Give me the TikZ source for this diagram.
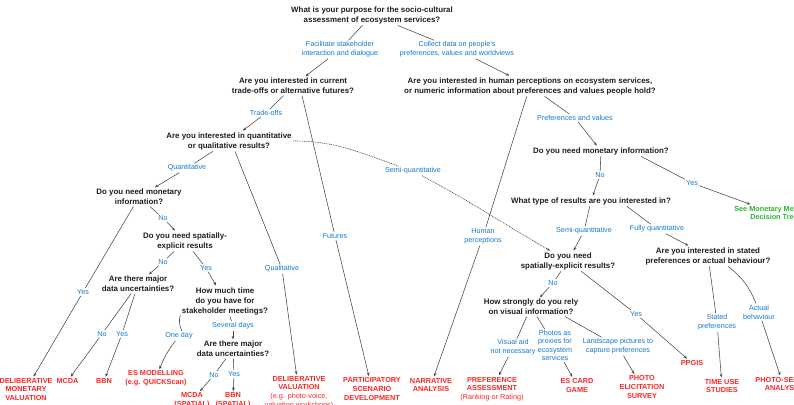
\documentclass[tikz,border=0pt]{standalone}
\usepackage{fontspec}
\setmainfont{Liberation Sans}
\usetikzlibrary{arrows.meta}
\definecolor{qtext}{RGB}{30,30,30}
\definecolor{lblue}{RGB}{20,120,200}
\definecolor{ored}{RGB}{250,40,40}
\definecolor{ogreen}{RGB}{40,180,50}
\definecolor{eline}{RGB}{70,70,70}
\tikzset{
 qn/.style={font=\fontsize{7.9}{10}\selectfont\bfseries, text=qtext, align=center, inner sep=1.5pt},
 lb/.style={font=\fontsize{7.2}{9}\selectfont, text=lblue, align=center, inner sep=1.2pt},
 ou/.style={font=\fontsize{7.3}{8.6}\selectfont\bfseries, text=ored, align=center, inner sep=1.5pt},
 ln/.style={draw=eline, line width=0.55pt},
 ar/.style={ln, -{Stealth[length=3.6pt,width=2.8pt]}},
 dl/.style={draw=eline, line width=0.6pt, dash pattern=on 1pt off 0.8pt}
}
\begin{document}
\begin{tikzpicture}[x=1pt,y=-1pt]
\useasboundingbox (0,0) rectangle (794,404);
\node[qn] (q1) at (372,15) {What is your purpose for the socio-cultural\\assessment of ecosystem services?};
\node[lb] (lfac) at (340,49.5) {Facilitate stakeholder\\interaction and dialogue};
\node[lb] (lcol) at (457,49.5) {Collect data on people's\\preferences, values and worldviews};
\node[qn] (q2) at (293,86) {Are you interested in current\\trade-offs or alternative futures?};
\node[qn] (q3) at (530,86) {Are you interested in human perceptions on ecosystem services,\\or numeric information about preferences and values people hold?};
\node[lb] (ltrade) at (266,113) {Trade-offs};
\node[qn] (q4) at (229,141) {Are you interested in quantitative\\or qualitative results?};
\node[lb] (lfut) at (335,236) {Futures};
\node[ou] (opsd) at (372,389) {PARTICIPATORY\\SCENARIO\\DEVELOPMENT};
\node[lb] (lquant) at (187,168) {Quantitative};
\node[qn] (qm1) at (139,197) {Do you need monetary\\information?};
\node[lb] (lqual) at (282,269) {Qualitative};
\node[ou] (odv) at (299,392.5) {DELIBERATIVE\\VALUATION\\{\mdseries(e.g. photo-voice,}\\{\mdseries valuation workshops)}};
\node[lb] (lsemi) at (413,171) {Semi-quantitative};
\node[lb] (lpref) at (575,118) {Preferences and values};
\node[qn] (qm2) at (601,151) {Do you need monetary information?};
\node[lb] (lhum) at (483,236.5) {Human\\perceptions};
\node[ou] (ona) at (431,385) {NARRATIVE\\ANALYSIS};
\node[lb] (lyesm) at (692,183) {Yes};
\node[ou, text=ogreen] (osee) at (774,213) {See Monetary Methods\\Decision Tree};
\node[lb] (lnom) at (600,175) {No};
\node[qn] (qtype) at (591,201) {What type of results are you interested in?};
\node[lb] (lsemib) at (584,231) {Semi-quantitative};
\node[qn] (qspat2) at (568,261) {Do you need\\spatially-explicit results?};
\node[lb] (lfully) at (657,229) {Fully quantitative};
\node[qn] (qstated) at (708,256) {Are you interested in stated\\preferences or actual behaviour?};
\node[lb] (lnos2) at (553,283) {No};
\node[qn] (qvis) at (531,307) {How strongly do you rely\\on visual information?};
\node[lb] (lyespp) at (636,314) {Yes};
\node[ou] (oppgis) at (692,363) {PPGIS};
\node[lb] (lvis) at (513,347.5) {Visual aid\\not necessary};
\node[ou] (opa) at (492,389) {PREFERENCE\\ASSESSMENT\\{\mdseries(Ranking or Rating)}};
\node[lb, font=\fontsize{7.2}{8.3}\selectfont] (lphotos) at (555,345.5) {Photos as\\proxies for\\ecosystem\\services};
\node[ou] (oes) at (577,385.5) {ES CARD\\GAME};
\node[lb] (lland) at (618,346.5) {Landscape pictures to\\capture preferences};
\node[ou] (opes) at (642,387) {PHOTO\\ELICITATION\\SURVEY};
\node[lb] (lstated) at (717,322.5) {Stated\\preferences};
\node[ou] (otus) at (722,386) {TIME USE\\STUDIES};
\node[lb] (lactual) at (759,312) {Actual\\behaviour};
\node[ou] (opsa) at (783,384) {PHOTO-SERIES\\ANALYSIS};
\node[lb] (lyesd) at (83,292) {Yes};
\node[ou] (odmv) at (26,389.5) {DELIBERATIVE\\MONETARY\\VALUATION};
\node[lb] (lno1) at (163,218) {No};
\node[qn] (qs1) at (185,241) {Do you need spatially-\\explicit results};
\node[lb] (lno2) at (163,262) {No};
\node[qn] (qu1) at (138,284) {Are there major\\data uncertainties?};
\node[lb] (lyes2) at (206,268) {Yes};
\node[qn] (qtime) at (225,301) {How much time\\do you have for\\stakeholder meetings?};
\node[lb] (lno3) at (102,334) {No};
\node[ou] (omcda) at (67.5,381) {MCDA};
\node[lb] (lyes3) at (122,334) {Yes};
\node[ou] (obbn) at (104,381) {BBN};
\node[lb] (loneday) at (179,336) {One day};
\node[ou] (oesm) at (156,378.5) {ES MODELLING\\(e.g. QUICKScan)};
\node[lb] (lsev) at (233,326) {Several days};
\node[qn] (qu2) at (233,349) {Are there major\\data uncertainties?};
\node[lb] (lno4) at (214,375) {No};
\node[ou] (omcdas) at (192,400.5) {MCDA\\(SPATIAL)};
\node[lb] (lyes4) at (234,374) {Yes};
\node[ou] (obbns) at (233,400.5) {BBN\\(SPATIAL)};
% edges
\draw[ln] (q1) -- (lfac); \draw[ar] (lfac) -- (q2);
\draw[ln] (q1) -- (lcol); \draw[ar] (lcol) -- (q3);
\draw[ln] (q2) -- (ltrade); \draw[ar] (ltrade) -- (q4);
\draw[ln] ([xshift=9pt]q2.south) -- (lfut); \draw[ar] (lfut) -- (opsd);
\draw[ln] (q3) -- (lhum); \draw[ar] (lhum) -- (ona);
\draw[ln] (q3) -- (lpref); \draw[ar] (lpref) -- (qm2);
\draw[ln] (q4) -- (lquant); \draw[ar] (lquant) -- (qm1);
\draw[ln] ([xshift=6pt]q4.south) -- (lqual); \draw[ar] (lqual) -- (odv);
\draw[dl] (q4.east) to[out=0,in=161] (lsemi);
\draw[dl,-{Stealth[length=3.6pt,width=2.8pt]}] (lsemi) to[out=-28,in=150] (qspat2);
\draw[ln] (qm1) -- (lyesd); \draw[ar] (lyesd) -- (odmv);
\draw[ln] (qm1) -- (lno1); \draw[ar] (lno1) -- (qs1);
\draw[ln] (qs1) -- (lno2); \draw[ar] (lno2) -- (qu1);
\draw[ln] (qs1) -- (lyes2); \draw[ar] (lyes2) -- (qtime);
\draw[ln] (qu1) -- (lno3); \draw[ar] (lno3) -- (omcda);
\draw[ln] (qu1) -- (lyes3); \draw[ar] (lyes3) -- (obbn);
\draw[ln] (qtime) to[bend right=20] (loneday); \draw[ar] (loneday) to[bend right=8] (oesm);
\draw[ln] (qtime) -- (lsev); \draw[ar] (lsev) -- (qu2);
\draw[ln] (qu2) -- (lno4); \draw[ar] (lno4) -- (omcdas);
\draw[ln] (qu2) -- (lyes4); \draw[ar] (lyes4) -- (obbns);
\draw[ln] ([xshift=40pt]qm2.south) -- (lyesm); \draw[ar] (lyesm) -- (osee);
\draw[ln] (qm2) -- (lnom); \draw[ar] (lnom) -- (qtype);
\draw[ln] (qtype) -- (lsemib); \draw[ar] (lsemib) -- (qspat2);
\draw[ln] ([xshift=36pt]qtype.south) -- (lfully); \draw[ar] (lfully) -- (qstated);
\draw[ln] (qspat2) -- (lnos2); \draw[ar] (lnos2) -- (qvis);
\draw[ln] (qspat2) -- (lyespp); \draw[ar] (lyespp) -- (oppgis);
\draw[ln] (qvis) -- (lvis); \draw[ar] (lvis) -- (opa);
\draw[ln] (qvis) -- (lphotos); \draw[ar] (lphotos) -- (oes);
\draw[ln] ([xshift=34pt]qvis.south) -- (lland); \draw[ar] (lland) -- (opes);
\draw[ln] (qstated) -- (lstated); \draw[ar] (lstated) -- (otus);
\draw[ln] ([xshift=20pt]qstated.south) to[bend left=15] (lactual); \draw[ar] (lactual) -- (opsa);
\end{tikzpicture}
\end{document}
